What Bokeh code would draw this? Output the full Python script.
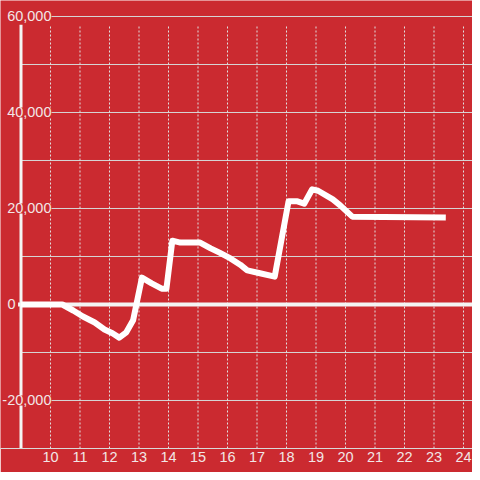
from bokeh.plotting import figure
from bokeh.models import ColumnDataSource, LabelSet, FixedTicker, Range1d
from bokeh.core.properties import value
from bokeh.embed import file_html
from bokeh.resources import INLINE

# ---- data ----
hours = [9.0, 10.4, 10.77, 11.1, 11.5, 11.83, 12.1, 12.33, 12.57, 12.8, 13.1, 13.43,
         13.77, 13.93, 14.13, 14.4, 15.07, 15.43, 15.73, 16.1, 16.43, 16.67, 17.1, 17.6,
         18.07, 18.37, 18.6, 18.87, 19.07, 19.57, 19.83, 20.23, 23.4]
values = [0, 0, -1250, -2500, -3750, -5200, -6000, -6900, -5800, -3300, 5600, 4400,
          3300, 3300, 13300, 12900, 12900, 11700, 10800, 9600, 8300, 7100, 6500, 5800,
          21500, 21500, 21000, 24000, 23700, 21900, 20600, 18300, 18100]
x_ticks = [10, 11, 12, 13, 14, 15, 16, 17, 18, 19, 20, 21, 22, 23, 24]
y_ticks = [60000, 50000, 40000, 30000, 20000, 10000, -10000, -20000]
y_label_values = [60000, 40000, 20000, -20000]
y_label_texts = ["60,000", "40,000", "20,000", "-20,000"]
zero_label_values = [0]
zero_label_texts = ["0"]

BG = "#cb2a30"
FONT = "Liberation Sans"
LABEL_COLOR = "#f2e6e6"
X0, X1 = 8.3051, 24.305
Y0, Y1 = -30000, 63333.3

p = figure(width=472, height=472, output_backend="svg", toolbar_location=None,
           x_range=Range1d(X0, X1), y_range=Range1d(Y0, Y1),
           min_border_left=0, min_border_right=0, min_border_top=0, min_border_bottom=24)
p.background_fill_color = BG
p.border_fill_color = BG
p.outline_line_color = None

# axes
p.yaxis.visible = False
xa = p.xaxis[0]
xa.ticker = FixedTicker(ticks=x_ticks)
xa.axis_line_color = "#d9d9d9"
xa.axis_line_width = 1
xa.major_tick_line_color = None
xa.major_tick_out = 0
xa.major_tick_in = 0
xa.minor_tick_line_color = None
xa.major_label_text_color = LABEL_COLOR
xa.major_label_text_font = FONT
xa.major_label_text_font_size = "14.5px"
xa.major_label_standoff = 3
p.xgrid.visible = False
p.ygrid.visible = False

# horizontal grid lines (from the y axis to the right edge)
p.segment(x0=[9] * len(y_ticks), y0=y_ticks, x1=[X1] * len(y_ticks), y1=y_ticks,
          line_color="#d6d6d6", line_width=1)

# vertical dotted grid lines
p.segment(x0=x_ticks, y0=[Y0] * len(x_ticks), x1=x_ticks,
          y1=[58300] * len(x_ticks), line_color="#e0e0e0", line_width=1, line_dash="2 2")

# y-axis line and zero line
p.segment(x0=[9], y0=[Y0], x1=[9], y1=[58300], line_color="#f4f4f4", line_width=3)
p.segment(x0=[8.9], y0=[0], x1=[X1], y1=[0], line_color="#f4f4f4", line_width=4)

# data line
p.line(hours, values, line_color="white", line_width=6, line_join="round")

# y labels
src = ColumnDataSource(dict(x=[9] * len(y_label_values), y=y_label_values, t=y_label_texts))
p.add_layout(LabelSet(x="x", y="y", text="t", source=src, x_offset=30.5,
                      text_align="right", text_baseline="middle",
                      text_color=LABEL_COLOR, text_font=value(FONT), text_font_size="14.5px",
                      background_fill_color=BG))
src0 = ColumnDataSource(dict(x=[9] * len(zero_label_values), y=zero_label_values, t=zero_label_texts))
p.add_layout(LabelSet(x="x", y="y", text="t", source=src0, x_offset=-5.5,
                      text_align="right", text_baseline="middle",
                      text_color=LABEL_COLOR, text_font=value(FONT), text_font_size="14.5px"))

open("out.html", "w").write(file_html(p, INLINE))
